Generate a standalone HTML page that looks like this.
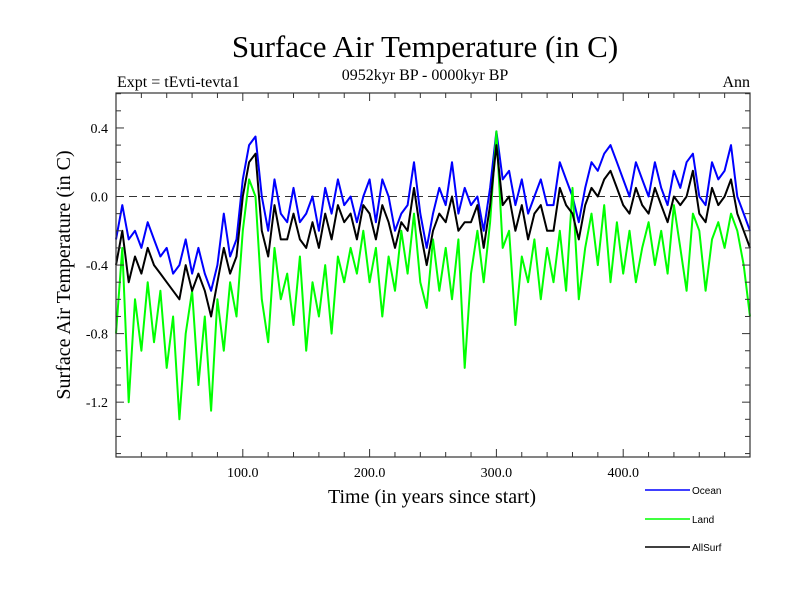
<!DOCTYPE html>
<html><head><meta charset="utf-8"><style>
body{margin:0;background:#fff}
svg text{font-family:"Liberation Serif",serif}
</style></head><body>
<svg id="chart" width="800" height="600">
<rect width="800" height="600" fill="#fff"/>
<text x="425" y="57" font-size="31" text-anchor="middle">Surface Air Temperature (in C)</text>
<text x="425" y="80" font-size="16" text-anchor="middle">0952kyr BP - 0000kyr BP</text>
<text x="117" y="87" font-size="16">Expt = tEvti-tevta1</text>
<text x="750" y="87" font-size="16" text-anchor="end">Ann</text>
<text transform="translate(70,275) rotate(-90)" font-size="20" text-anchor="middle">Surface Air Temperature (in C)</text>
<text x="432" y="503" font-size="20" text-anchor="middle">Time (in years since start)</text>
<g id="plot"></g>
<g>
<line x1="645" y1="490" x2="690" y2="490" stroke="#0000ff" stroke-width="1.5"/>
<text x="692" y="494" font-size="10" style="font-family:'Liberation Sans',sans-serif">Ocean</text>
<line x1="645" y1="519" x2="690" y2="519" stroke="#00ff00" stroke-width="1.5"/>
<text x="692" y="523" font-size="10" style="font-family:'Liberation Sans',sans-serif">Land</text>
<line x1="645" y1="547" x2="690" y2="547" stroke="#000" stroke-width="1.5"/>
<text x="692" y="551" font-size="10" style="font-family:'Liberation Sans',sans-serif">AllSurf</text>
</g>
</svg>
<script>
const years = [];
for (let t = 0; t <= 500; t += 5) years.push(t);
const ocean = [-0.25,-0.05,-0.25,-0.2,-0.3,-0.15,-0.25,-0.35,-0.3,-0.45,-0.4,-0.25,-0.45,-0.3,-0.45,-0.55,-0.4,-0.1,-0.35,-0.25,0.1,0.3,0.35,0.0,-0.2,0.1,-0.1,-0.15,0.05,-0.15,-0.1,0.0,-0.2,0.05,-0.1,0.1,-0.05,0.0,-0.15,0.0,0.1,-0.15,0.1,0.0,-0.2,-0.1,-0.05,0.2,-0.1,-0.3,-0.1,0.05,-0.05,0.2,-0.1,0.05,-0.05,0.0,-0.2,0.05,0.38,0.1,0.15,-0.05,0.1,-0.1,0.0,0.1,-0.05,-0.05,0.2,0.1,0.0,-0.15,0.05,0.2,0.15,0.25,0.3,0.2,0.1,0.0,0.2,0.1,0.0,0.2,0.05,-0.05,0.15,0.05,0.2,0.25,0.0,-0.05,0.2,0.1,0.15,0.3,0.0,-0.1,-0.2];
const land = [-0.8,-0.3,-1.2,-0.6,-0.9,-0.5,-0.85,-0.55,-1.0,-0.7,-1.3,-0.8,-0.55,-1.1,-0.7,-1.25,-0.6,-0.9,-0.5,-0.7,-0.2,0.1,0.0,-0.6,-0.85,-0.3,-0.6,-0.45,-0.75,-0.35,-0.9,-0.5,-0.7,-0.4,-0.8,-0.35,-0.5,-0.3,-0.45,-0.2,-0.5,-0.3,-0.7,-0.35,-0.55,-0.2,-0.45,-0.1,-0.5,-0.65,-0.25,-0.55,-0.3,-0.6,-0.25,-1.0,-0.45,-0.2,-0.5,-0.15,0.38,-0.3,-0.2,-0.75,-0.35,-0.5,-0.25,-0.6,-0.3,-0.5,-0.2,-0.55,0.05,-0.6,-0.3,-0.1,-0.4,-0.05,-0.5,-0.15,-0.45,-0.2,-0.5,-0.3,-0.15,-0.4,-0.2,-0.45,-0.05,-0.3,-0.55,-0.1,-0.2,-0.55,-0.25,-0.15,-0.3,-0.1,-0.2,-0.4,-0.7];
const allSurf = [-0.4,-0.2,-0.5,-0.35,-0.45,-0.3,-0.4,-0.45,-0.5,-0.55,-0.6,-0.4,-0.55,-0.45,-0.55,-0.7,-0.5,-0.3,-0.45,-0.35,0.0,0.2,0.25,-0.2,-0.35,-0.05,-0.25,-0.25,-0.1,-0.25,-0.3,-0.15,-0.3,-0.1,-0.25,-0.05,-0.15,-0.1,-0.25,-0.05,-0.1,-0.25,-0.05,-0.15,-0.3,-0.15,-0.2,0.05,-0.2,-0.4,-0.2,-0.1,-0.15,0.0,-0.2,-0.15,-0.15,-0.05,-0.3,-0.05,0.3,-0.05,0.0,-0.2,-0.05,-0.25,-0.1,-0.05,-0.2,-0.2,0.05,-0.05,-0.1,-0.25,-0.05,0.05,0.0,0.1,0.15,0.05,-0.05,-0.1,0.05,-0.05,-0.1,0.05,-0.05,-0.15,0.0,-0.05,0.0,0.15,-0.1,-0.15,0.05,-0.05,0.0,0.1,-0.1,-0.2,-0.3];
const yTicks = [0.4,0.0,-0.4,-0.8,-1.2];
const yTickLabels = ["0.4","0.0","-0.4","-0.8","-1.2"];
const xTicks = [100,200,300,400];
const xTickLabels = ["100.0","200.0","300.0","400.0"];

const L=116,R=750,T=93,B=457, XMIN=0,XMAX=500, YMIN=-1.52, YMAX=0.604;
const sx = v => L + (v-XMIN)/(XMAX-XMIN)*(R-L);
const sy = v => T + (YMAX-v)/(YMAX-YMIN)*(B-T);
const NS="http://www.w3.org/2000/svg";
const g=document.getElementById('plot');
function mk(tag,attrs){const e=document.createElementNS(NS,tag);for(const k in attrs)e.setAttribute(k,attrs[k]);g.appendChild(e);return e;}

const zl=mk('line',{x1:L,x2:R,y1:sy(0),y2:sy(0),stroke:'#333','stroke-dasharray':'8,5','stroke-width':1});



function series(arr,color,name){
  const d=arr.map((v,i)=>(i?'L':'M')+sx(years[i]).toFixed(1)+','+sy(v).toFixed(1)).join('');
  const p=mk('path',{d:d,fill:'none',stroke:color,'stroke-width':2,'stroke-linejoin':'round'});
  
  
}
series(ocean,'#0000ff','ocean-line');
series(land,'#00ff00','land-line');
series(allSurf,'#000000','allsurf-line');

const fr=mk('rect',{x:L,y:T,width:R-L,height:B-T,fill:'none',stroke:'#333','stroke-width':1.2});



for(let v=20; v<500; v+=20){
  const major = v%100===0, len = major?8:5;
  [[B,B-len],[T,T+len]].forEach(a=>{
    const t=mk('line',{x1:sx(v),x2:sx(v),y1:a[0],y2:a[1],stroke:'#333'});
    
    
  });
}
for(let k=-15;k<=6;k++){
  const v=k/10, major = k%4===0, len=major?8:5;
  [[L,L+len],[R,R-len]].forEach(a=>{
    const t=mk('line',{x1:a[0],x2:a[1],y1:sy(v),y2:sy(v),stroke:'#333'});
    
    
  });
}
yTicks.forEach((v,i)=>{
  const t=mk('text',{x:108,y:sy(v)+5,'font-size':14,'text-anchor':'end'});
  t.textContent=yTickLabels[i];
  
  
});
xTicks.forEach((v,i)=>{
  const t=mk('text',{x:sx(v),y:477,'font-size':14,'text-anchor':'middle'});
  t.textContent=xTickLabels[i];
  
  
});
</script>
</body></html>
